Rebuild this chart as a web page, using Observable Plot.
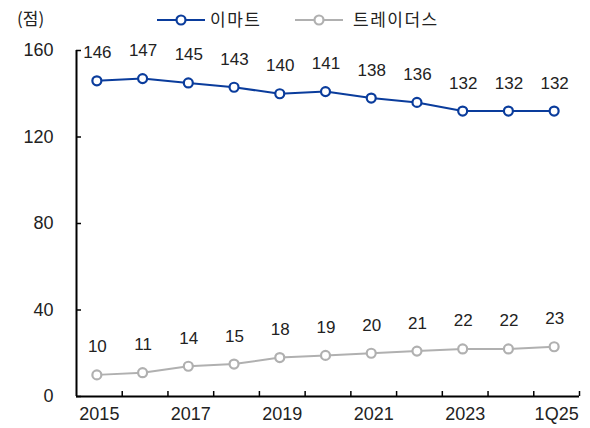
<!DOCTYPE html>
<html><head><meta charset="utf-8">
<script src="https://cdn.jsdelivr.net/npm/d3@7"></script>
<script src="https://cdn.jsdelivr.net/npm/@observablehq/plot@0.6"></script>
<style>
body{margin:0;background:#fff;font-family:"Liberation Sans",Arial,sans-serif;}
#wrap{position:relative;width:590px;height:428px;}
#wrap svg{position:absolute;left:0;top:0;}
.ov{position:absolute;font-family:"Noto Sans CJK KR","Liberation Sans",sans-serif;font-size:17px;color:#222;line-height:1;white-space:nowrap;}
</style></head>
<body><div id="wrap"></div>
<script>
const categories = ["2015","2016","2017","2018","2019","2020","2021","2022","2023","2024","1Q25"];
const emart = [146,147,145,143,140,141,138,136,132,132,132];
const traders = [10,11,14,15,18,19,20,21,22,22,23];
const yTicks = [0,40,80,120,160];
const seriesNames = ["이마트","트레이더스"];
const colors = ["#0a3c9c","#b0b0b0"];
const unitLabel = "(점)";

const idx = d3.range(categories.length);
const rows = [
  ...idx.map(i => ({i, v: emart[i], s: seriesNames[0]})),
  ...idx.map(i => ({i, v: traders[i], s: seriesNames[1]}))
];
const boundaries = d3.range(0.5, categories.length, 1);
const labelIdx = idx.filter(i => i % 2 === 0);

const chart = Plot.plot({
  width: 590, height: 428,
  marginLeft: 76, marginRight: 11, marginTop: 50, marginBottom: 32,
  x: {type: "linear", domain: [-0.5, categories.length - 0.5], axis: null},
  y: {domain: [0, 160], axis: null},
  color: {domain: seriesNames, range: colors},
  style: {fontFamily: "'Liberation Sans', Arial, sans-serif", fontSize: "17px", color: "#222"},
  marks: [
    Plot.axisY(yTicks, {label: null, tickSize: -5, tickFormat: () => "", stroke: "#000", strokeWidth: 1.5}),
    Plot.axisY(yTicks, {label: null, tickSize: 0, tickPadding: 0, dx: -23, fontSize: 18, fill: "#222"}),
    Plot.axisX(boundaries, {label: null, tickSize: -5, tickFormat: () => "", stroke: "#000", strokeWidth: 1.5}),
    Plot.axisX(labelIdx, {label: null, tickSize: 0, tickPadding: 11, fontSize: 18, fill: "#222", tickFormat: i => categories[i]}),
    Plot.ruleX([-0.5], {stroke: "#000", strokeWidth: 2}),
    Plot.ruleY([0], {stroke: "#000", strokeWidth: 1.8}),
    Plot.line(rows, {x: "i", y: "v", z: "s", stroke: "s", strokeWidth: 2, dx: -2.5}),
    Plot.dot(rows, {x: "i", y: "v", stroke: "s", fill: "#fff", r: 4.5, strokeWidth: 2.2, dx: -2.5}),
    Plot.text(rows, {x: "i", y: "v", text: d => String(d.v), dy: -28, dx: -2, fontSize: 17, fill: "#222"})
  ]
});
const wrap = document.getElementById("wrap");
wrap.appendChild(chart);

// Unit label and legend
const unit = document.createElement("div");
unit.className = "ov"; unit.textContent = unitLabel;
unit.style.left = "17px"; unit.style.top = "9px";
wrap.appendChild(unit);

const legendPos = [{x: 157, tx: 210}, {x: 295, tx: 353}];
seriesNames.forEach((name, k) => {
  const p = legendPos[k];
  const sw = document.createElementNS("http://www.w3.org/2000/svg", "svg");
  sw.setAttribute("width", 50); sw.setAttribute("height", 14);
  sw.style.position = "absolute"; sw.style.left = p.x + "px"; sw.style.top = "13px";
  sw.innerHTML = `<line x1="0" x2="48" y1="7" y2="7" stroke="${colors[k]}" stroke-width="2"/>
    <circle cx="24" cy="7" r="4.5" fill="#fff" stroke="${colors[k]}" stroke-width="2.2"/>`;
  wrap.appendChild(sw);
  const t = document.createElement("div");
  t.className = "ov"; t.textContent = name;
  t.style.left = p.tx + "px"; t.style.top = "10px"; t.style.letterSpacing = "1.5px";
  wrap.appendChild(t);
});
</script>
</body></html>
